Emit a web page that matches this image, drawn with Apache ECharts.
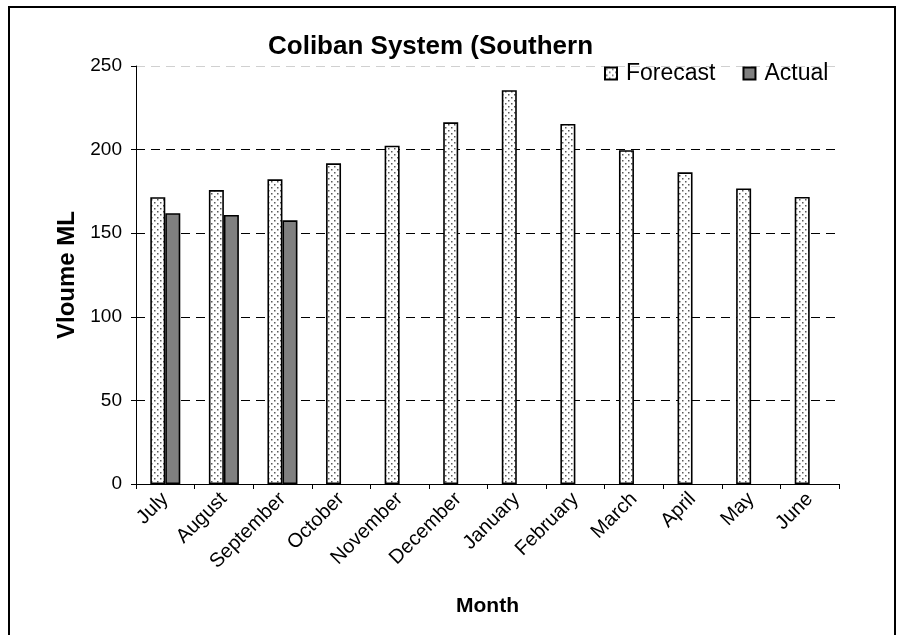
<!DOCTYPE html>
<html>
<head>
<meta charset="utf-8">
<script src="https://cdn.jsdelivr.net/npm/echarts@6/dist/echarts.min.js"></script>
<style>html,body{margin:0;padding:0;background:#fff;}#c{width:901px;height:635px;}</style>
</head>
<body>
<div id="c"></div>
<script>
var months = ['July','August','September','October','November','December','January','February','March','April','May','June'];
var forecast = [171.5, 175.8, 182.2, 191.8, 202.3, 216.3, 235.5, 215.3, 199.6, 186.4, 176.8, 171.7];
var actual = [162, 160.9, 157.7, null, null, null, null, null, null, null, null, null];
var yTicks = [0, 50, 100, 150, 200, 250];

function dotPattern() {
  var c = document.createElement('canvas');
  c.width = 6; c.height = 6;
  var g = c.getContext('2d');
  g.fillStyle = '#ffffff';
  g.fillRect(0, 0, 6, 6);
  g.fillStyle = '#5a5a5a';
  g.fillRect(1, 1, 1.5, 1.5);
  g.fillRect(4, 4, 1.5, 1.5);
  return c;
}

var font = 'Liberation Sans, Arial, sans-serif';
var chart = echarts.init(document.getElementById('c'), null, {renderer: 'canvas'});
chart.setOption({
  animation: false,
  backgroundColor: '#ffffff',
  textStyle: {fontFamily: font, color: '#000'},
  title: {
    text: 'Coliban System (Southern',
    left: 263, top: 29,
    textStyle: {fontFamily: font, fontSize: 26, fontWeight: 'bold', color: '#000'}
  },
  legend: {
    left: 604, top: 62, padding: 0,
    itemWidth: 12, itemHeight: 12, itemGap: 27,
    icon: 'rect',
    textStyle: {fontFamily: font, fontSize: 23, color: '#000', padding: [0, 0, 0, 4]},
    data: ['Forecast', 'Actual']
  },
  graphic: [{
    type: 'rect', silent: true, z: 0,
    shape: {x: 9, y: 7, width: 886, height: 700},
    style: {fill: 'none', stroke: '#000', lineWidth: 2}
  }],
  grid: {left: 136, right: 62, top: 66, bottom: 151, containLabel: false},
  xAxis: {
    type: 'category',
    data: months,
    name: 'Month',
    nameLocation: 'middle',
    nameGap: 112,
    nameTextStyle: {fontFamily: font, fontSize: 21, fontWeight: 'bold', color: '#000'},
    axisLine: {lineStyle: {color: '#000', width: 1}},
    axisTick: {show: true, length: 5, lineStyle: {color: '#000'}},
    axisLabel: {rotate: 45, margin: 12, fontSize: 20, color: '#000', fontFamily: font, interval: 0}
  },
  yAxis: {
    type: 'value',
    min: yTicks[0], max: yTicks[yTicks.length - 1], interval: 50,
    name: 'Vloume ML',
    nameLocation: 'middle',
    nameRotate: 90,
    nameGap: 57,
    nameTextStyle: {fontFamily: font, fontSize: 24, fontWeight: 'bold', color: '#000'},
    axisLine: {show: true, lineStyle: {color: '#000', width: 1}},
    axisTick: {show: true, length: 5, lineStyle: {color: '#000'}},
    axisLabel: {margin: 14, fontSize: 19, color: '#000', fontFamily: font},
    splitLine: {show: true, lineStyle: {color: ['#000','#000','#000','#000','#000','#d0d0d0'], type: [9, 6], width: 1}}
  },
  series: [{
    name: 'Forecast',
    type: 'bar',
    data: forecast,
    barWidth: 15,
    barGap: '0%',
    itemStyle: {color: {image: dotPattern(), repeat: 'repeat'}, borderColor: '#000', borderWidth: 1.6}
  }, {
    name: 'Actual',
    type: 'bar',
    data: actual,
    barWidth: 15,
    barGap: '0%',
    itemStyle: {color: '#808080', borderColor: '#000', borderWidth: 1.6}
  }]
});
</script>
</body>
</html>
